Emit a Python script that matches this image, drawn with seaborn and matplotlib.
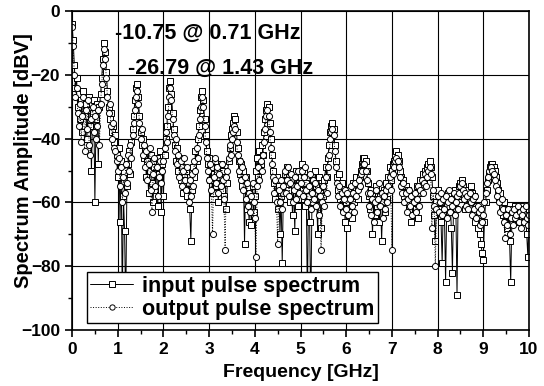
import numpy as np
import matplotlib
matplotlib.use("Agg")
import matplotlib.pyplot as plt
from matplotlib.ticker import MultipleLocator
import seaborn as sns

# frequency grid [GHz], 0.025 GHz bins
freq = np.linspace(0, 10, 401)

# input pulse spectrum [dBV] (0.5 GHz per row)
input_db = [
    -4, -9, -17, -24, -21, -30, -26, -34, -28, -38, -25, -33, -29, -40, -31, -27, -36, -50, -32, -28,   # 0.0
    -60, -34, -29, -48, -30, -26, -21, -15, -10, -13, -19, -25, -30, -34, -32, -38, -36, -41, -39, -45,  # 0.5
    -52, -43, -66, -47, -92, -58, -69, -94, -55, -48, -44, -51, -41, -37, -33, -28, -24, -23, -27, -33,  # 1.0
    -38, -42, -40, -46, -44, -52, -47, -57, -50, -45, -54, -60, -49, -56, -46, -61, -51, -44, -63, -48,  # 1.5
    -58, -45, -40, -36, -30, -24, -22, -26, -32, -37, -42, -47, -43, -50, -46, -53, -49, -57, -51, -55,  # 2.0
    -50, -58, -54, -62, -72, -56, -49, -52, -44, -47, -40, -36, -31, -27, -25, -28, -34, -39, -44, -48,  # 2.5
    -46, -53, -49, -57, -51, -47, -55, -50, -60, -52, -48, -56, -50, -58, -53, -62, -54, -47, -43, -39,  # 3.0
    -37, -35, -33, -34, -38, -43, -47, -51, -48, -55, -50, -73, -52, -62, -57, -66, -59, -67, -55, -63,  # 3.5
    -58, -50, -46, -52, -44, -48, -42, -45, -38, -34, -31, -29, -30, -35, -40, -45, -50, -54, -59, -52,  # 4.0
    -62, -55, -70, -58, -79, -57, -51, -55, -49, -56, -52, -60, -53, -64, -55, -69, -50, -56, -61, -54,  # 4.5
    -52, -48, -56, -50, -61, -54, -92, -58, -66, -94, -60, -53, -57, -50, -55, -70, -52, -57, -68, -55,  # 5.0
    -58, -53, -49, -52, -46, -42, -38, -36, -35, -37, -42, -47, -52, -56, -51, -59, -54, -62, -57, -66,  # 5.5
    -60, -68, -56, -63, -58, -65, -54, -60, -57, -52, -59, -55, -52, -50, -48, -46, -46, -47, -50, -54,  # 6.0
    -58, -62, -56, -70, -59, -64, -55, -61, -57, -66, -58, -72, -60, -56, -63, -54, -59, -52, -49, -53,  # 6.5
    -50, -48, -47, -45, -44, -45, -47, -50, -52, -55, -53, -58, -55, -60, -56, -62, -58, -66, -60, -64,  # 7.0
    -58, -62, -55, -65, -57, -53, -55, -51, -53, -50, -52, -49, -48, -47, -49, -52, -58, -64, -72, -60,  # 7.5
    -56, -62, -58, -66, -79, -60, -64, -85, -61, -57, -63, -59, -68, -82, -60, -56, -62, -89, -58, -55,  # 8.0
    -54, -53, -55, -58, -62, -57, -60, -56, -59, -55, -57, -63, -58, -66, -61, -68, -64, -70, -73, -76,  # 8.5
    -78, -66, -60, -56, -53, -51, -49, -48, -48, -49, -50, -52, -54, -56, -59, -57, -61, -64, -60, -66,  # 9.0
    -62, -68, -64, -72, -85, -66, -62, -65, -61, -64, -62, -66, -63, -61, -65, -62, -66, -63, -70, -77, -62,  # 9.5
]

# output pulse spectrum [dBV]
output_db = [
    -5, -11, -20, -27, -24, -32, -36, -29, -41, -33, -27, -44, -31, -37, -28, -42, -45, -34, -30, -38,
    -33, -40, -36, -31, -42, -29, -23, -17, -12, -15, -21, -27, -32, -29, -36, -40, -35, -43, -44, -47,
    -50, -46, -55, -49, -60, -52, -57, -48, -54, -45, -50, -42, -46, -39, -35, -31, -27, -25, -29, -35,
    -40, -37, -45, -42, -49, -44, -53, -48, -43, -56, -63, -51, -46, -55, -49, -58, -52, -47, -54, -50,
    -47, -43, -38, -41, -33, -27, -24, -28, -34, -39, -44, -40, -48, -45, -52, -47, -55, -50, -46, -53,
    -56, -49, -60, -53, -58, -51, -55, -47, -50, -43, -46, -39, -34, -30, -27, -30, -36, -41, -46, -50,
    -53, -48, -56, -70, -52, -46, -54, -49, -57, -51, -55, -48, -53, -59, -75, -52, -50, -46, -42, -45,
    -40, -38, -36, -37, -41, -45, -50, -47, -53, -49, -56, -52, -59, -54, -61, -57, -63, -58, -54, -60,
    -65, -77, -55, -49, -53, -47, -50, -45, -41, -37, -33, -31, -33, -38, -43, -48, -52, -57, -53, -60,
    -73, -56, -60, -53, -62, -55, -50, -57, -53, -49, -58, -54, -51, -60, -56, -52, -59, -55, -50, -57,
    -54, -50, -58, -52, -49, -56, -60, -55, -51, -62, -57, -53, -59, -54, -61, -56, -64, -58, -75, -60,
    -55, -61, -52, -57, -49, -45, -40, -38, -37, -39, -44, -49, -54, -58, -55, -61, -57, -63, -59, -56,
    -62, -57, -64, -59, -55, -61, -57, -63, -54, -58, -56, -53, -55, -51, -50, -48, -48, -50, -53, -57,
    -61, -57, -64, -59, -66, -60, -56, -63, -59, -54, -61, -57, -65, -58, -62, -56, -60, -55, -52, -56,
    -75, -51, -49, -47, -46, -47, -49, -52, -55, -57, -54, -60, -57, -63, -59, -56, -61, -58, -64, -60,
    -57, -63, -59, -55, -61, -56, -53, -57, -54, -51, -55, -52, -50, -49, -51, -68, -56, -61, -80, -62,
    -58, -63, -60, -57, -64, -59, -62, -58, -65, -60, -56, -63, -59, -61, -57, -64, -60, -58, -62, -57,
    -55, -54, -56, -59, -57, -61, -58, -62, -57, -60, -64, -59, -62, -58, -65, -61, -63, -67, -62, -66,
    -64, -60, -57, -54, -52, -50, -49, -49, -50, -51, -53, -55, -58, -56, -60, -63, -59, -62, -66, -71,
    -64, -67, -62, -70, -65, -63, -67, -62, -65, -64, -61, -66, -63, -68, -64, -62, -66, -61, -65, -67, -64,
]

notes = ["-10.75 @ 0.71 GHz", "-26.79 @ 1.43 GHz"]
note_xy = [(0.94, -6.9), (1.23, -17.9)]

sns.set_style("ticks")
plt.rcParams['font.family'] = ['Liberation Sans', 'DejaVu Sans']
plt.rcParams['font.weight'] = 'bold'
plt.rcParams['text.color'] = 'black'
plt.rcParams['axes.labelcolor'] = 'black'
plt.rcParams['xtick.color'] = 'black'
plt.rcParams['ytick.color'] = 'black'

fig = plt.figure(figsize=(5.44, 3.86), dpi=100)
ax = fig.add_axes([0.1324, 0.145, 0.8400, 0.8265])

sns.lineplot(x=freq, y=input_db, ax=ax, color='black', lw=0.7,
             marker='s', ms=4.2, mfc='white', mec='black', mew=0.7,
             label='input pulse spectrum')
sns.lineplot(x=freq, y=output_db, ax=ax, color='black', lw=0.7, ls=':',
             marker='o', ms=4.4, mfc='white', mec='black', mew=0.7,
             label='output pulse spectrum')

ax.set_xlim(0, 10)
ax.set_ylim(-100, 0)
ax.xaxis.set_major_locator(MultipleLocator(1))
ax.xaxis.set_minor_locator(MultipleLocator(0.5))
ax.yaxis.set_major_locator(MultipleLocator(20))
ax.yaxis.set_minor_locator(MultipleLocator(10))
ax.grid(True, which='major', color='black', lw=0.8)
ax.tick_params(which='major', direction='out', length=5, width=1.2,
               labelsize=12.5, colors='black')
ax.tick_params(which='minor', direction='out', length=3, width=1.0)
for lab in ax.get_xticklabels() + ax.get_yticklabels():
    lab.set_fontweight('bold')
for s in ax.spines.values():
    s.set_color('black')
    s.set_linewidth(1.2)

ax.set_xlabel('Frequency [GHz]', fontsize=14, fontweight='bold', color='black')
ax.set_ylabel('Spectrum Amplitude [dBV]', fontsize=14.5, fontweight='bold', color='black')
ax.xaxis.set_label_coords(0.5, -0.105)
ax.yaxis.set_label_coords(-0.085, 0.53)

for txt, (tx, ty) in zip(notes, note_xy):
    ax.text(tx, ty, txt, ha='left', va='center', fontsize=15.5,
            fontweight='bold', color='black')

leg = ax.legend(loc='lower left', bbox_to_anchor=(0.033, 0.022), fancybox=False,
                framealpha=1, edgecolor='black', borderaxespad=0,
                prop={'weight': 'bold', 'size': 15.5}, handlelength=2.0,
                borderpad=0.15, labelspacing=0.1, handletextpad=0.4)
leg.get_frame().set_linewidth(1.0)
for h in leg.legend_handles:
    h.set_markersize(3.8)

fig.savefig('out.png', dpi=100)
